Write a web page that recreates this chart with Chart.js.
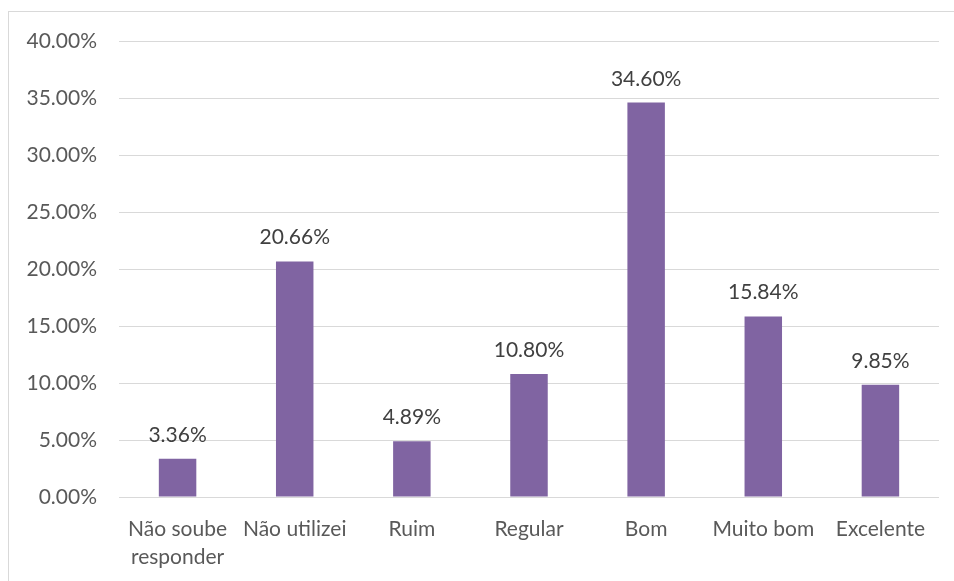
<!DOCTYPE html>
<html>
<head>
<meta charset="utf-8">
<script src="https://cdn.jsdelivr.net/npm/chart.js@4"></script>
<style>
    html, body { margin: 0; padding: 0; background: #fff; }
    #wrap { position: relative; width: 954px; height: 581px; overflow: hidden; }
    #frame { position: absolute; left: 8px; top: 11px; width: 1000px; height: 1000px; border: 1px solid #d9d9d9; box-sizing: border-box; }
    canvas { position: absolute; left: 0; top: 0; }
</style>
</head>
<body>
<div id="wrap">
    <div id="frame"></div>
    <canvas id="chartBars" width="954" height="581"></canvas>
</div>
<script>
const categories = [["Não soube", "responder"], "Não utilizei", "Ruim", "Regular", "Bom", "Muito bom", "Excelente"]
const values = [3.36, 20.66, 4.89, 10.80, 34.60, 15.84, 9.85]
const yTicks = [0, 5, 10, 15, 20, 25, 30, 35, 40]

const textColor = "#595959"
const fontFamily = "Lato, 'Open Sans', sans-serif"

// labels above each bar
let valueLabels = {
    id: "valueLabels",
    afterDatasetsDraw: (chart) => {
        let ctx = chart.ctx
        let meta = chart.getDatasetMeta(0)
        ctx.save()
        ctx.fillStyle = "#404040"
        ctx.font = `21px ${fontFamily}`
        ctx.textAlign = "center"
        ctx.textBaseline = "alphabetic"
        meta.data.forEach((bar, i) => {
            ctx.fillText(values[i].toFixed(2) + "%", bar.x, bar.y - 17)
        })
        ctx.restore()
    }
}

window.addEventListener("load", () => {
    new Chart(document.getElementById("chartBars"), {
        type: "bar",
        data: {
            labels: categories,
            datasets: [{
                data: values,
                backgroundColor: "#8064a2",
                categoryPercentage: 1,
                barPercentage: 0.32
            }]
        },
        options: {
            responsive: false,
            animation: false,
            layout: { padding: { top: 41, right: 15, bottom: 0, left: 0 } },
            plugins: {
                legend: { display: false },
                tooltip: { enabled: false }
            },
            scales: {
                x: {
                    grid: { display: false },
                    border: { display: false },
                    ticks: {
                        color: textColor,
                        font: { family: fontFamily, size: 21, lineHeight: 1.35 },
                        padding: 10,
                        maxRotation: 0,
                        autoSkip: false
                    },
                    afterFit: (scale) => { scale.height = 84 }
                },
                y: {
                    min: 0,
                    max: 40,
                    afterBuildTicks: (scale) => { scale.ticks = yTicks.map(v => ({ value: v })) },
                    grid: { color: "#d9d9d9", lineWidth: 1, drawTicks: false },
                    border: { display: false },
                    ticks: {
                        color: textColor,
                        font: { family: fontFamily, size: 21 },
                        padding: 22,
                        callback: (v) => v.toFixed(2) + "%"
                    },
                    afterFit: (scale) => { scale.width = 119 }
                }
            }
        },
        plugins: [valueLabels]
    })
})
</script>
</body>
</html>
